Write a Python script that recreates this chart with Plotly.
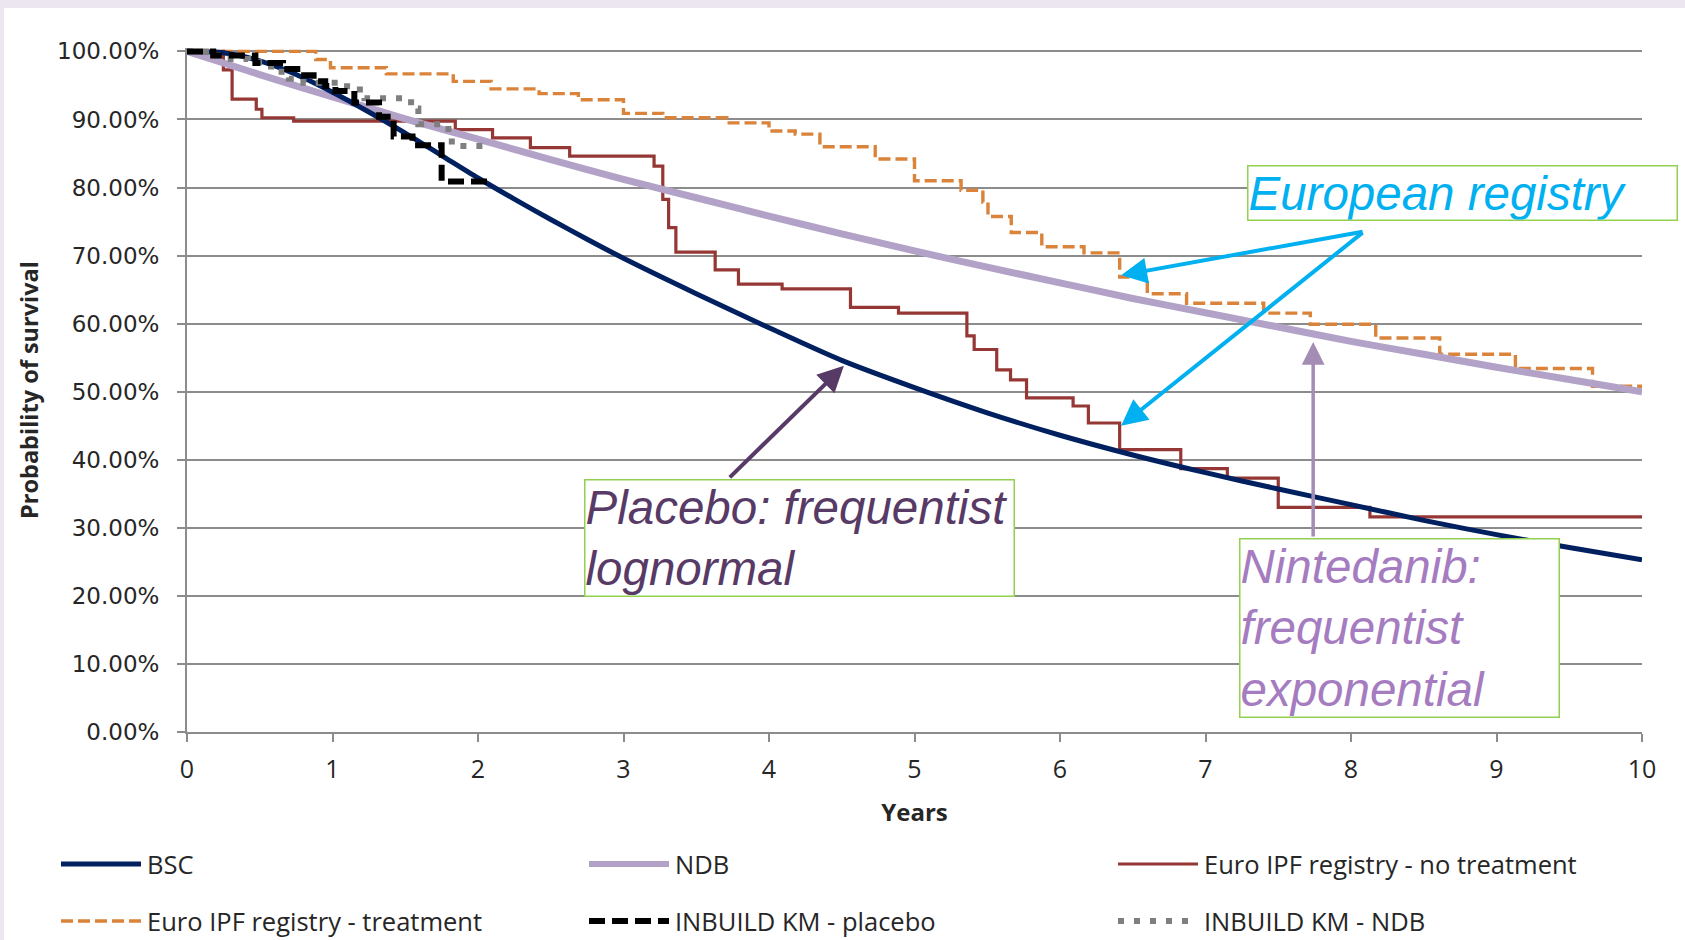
import plotly.graph_objects as go

# ---------------- data (years, survival %) ----------------
x_ticks = list(range(0, 11))
y_ticks = [i / 10 for i in range(11)]

bsc_t = [0, 0.25, 0.5, 0.75, 1, 1.25, 1.5, 1.75, 2, 2.25, 2.5, 2.75, 3, 3.5, 4, 4.5, 5, 5.5, 6, 6.5, 7, 7.5, 8, 8.5, 9, 9.5, 10]
bsc_s = [100, 99.8, 98.6, 96.6, 94.0, 91.1, 88.0, 84.7, 81.4, 78.3, 75.3, 72.4, 69.6, 64.4, 59.4, 54.6, 50.6, 46.9, 43.6, 40.7, 38.1, 35.7, 33.4, 31.1, 29.0, 27.1, 25.3]

ndb_t = [0, 0.5, 1, 1.5, 2, 2.5, 3, 3.5, 4, 4.5, 5, 5.5, 6, 6.5, 7, 7.5, 8, 8.5, 9, 9.5, 10]
ndb_s = [100, 96.6, 93.3, 90.1, 87.1, 84.1, 81.2, 78.5, 75.8, 73.2, 70.7, 68.3, 66.0, 63.7, 61.6, 59.5, 57.4, 55.5, 53.6, 51.8, 50.0]

euro_nt_t = [0, 0.25, 0.31, 0.476, 0.515, 0.733, 1.844, 2.10, 2.36, 2.63, 3.21, 3.27, 3.31, 3.36, 3.63, 3.79,
             4.09, 4.56, 4.89, 5.36, 5.41, 5.565, 5.66, 5.77, 6.09, 6.195, 6.41, 6.83, 7.15, 7.50, 8.13, 10]
euro_nt_s = [100, 97.3, 93.0, 91.5, 90.25, 89.75, 88.5, 87.3, 85.85, 84.6, 83.15, 78.25, 74.1, 70.5, 67.9, 65.8,
             65.1, 62.4, 61.55, 58.2, 56.2, 53.2, 51.75, 49.1, 47.9, 45.4, 41.5, 38.7, 37.3, 33.0, 31.6, 31.6]

euro_tr_t = [0, 0.885, 0.986, 1.37, 1.83, 2.09, 2.42, 2.69, 3.0, 3.27, 3.71, 4.0, 4.18, 4.35, 4.73, 5.0, 5.32,
             5.47, 5.505, 5.665, 5.875, 6.165, 6.41, 6.60, 6.87, 7.40, 7.72, 8.17, 8.61, 9.13, 9.66, 10]
euro_tr_s = [100, 98.8, 97.6, 96.7, 95.6, 94.5, 93.8, 92.9, 90.9, 90.25, 89.5, 88.3, 87.85, 86.0, 84.2, 81.0, 79.6,
             77.85, 75.75, 73.4, 71.3, 70.4, 66.85, 64.4, 63.0, 61.55, 59.9, 57.9, 55.5, 53.4, 50.8, 50.8]

km_pbo_t = [0, 0.18, 0.47, 0.66, 0.78, 0.87, 0.95, 1.02, 1.15, 1.32, 1.42, 1.55, 1.75, 2.08]
km_pbo_s = [100, 99.4, 98.3, 97.4, 96.5, 95.6, 94.9, 94.2, 92.5, 90.4, 87.5, 86.2, 80.9, 80.9]

km_ndb_t = [0, 0.2, 0.3, 0.42, 0.52, 0.6, 0.7, 0.8, 1.1, 1.22, 1.54, 1.59, 1.75, 1.82, 2.04]
km_ndb_s = [100, 99.4, 98.9, 98.4, 97.8, 97.0, 96.0, 95.4, 94.4, 93.1, 91.6, 89.3, 88.6, 86.1, 86.1]

series_names = ["BSC", "NDB", "Euro IPF registry - no treatment",
                "Euro IPF registry - treatment", "INBUILD KM - placebo", "INBUILD KM - NDB"]

# ---------------- styles ----------------
styles = [
    dict(color="#002060", width=5, dash="solid", shape="spline"),
    dict(color="#B3A2C7", width=7, dash="solid", shape="spline"),
    dict(color="#953735", width=3.2, dash="solid", shape="hv"),
    dict(color="#D9843A", width=3.4, dash="12px,5px", shape="hv"),
    dict(color="#000000", width=6, dash="16px,7px", shape="hv"),
    dict(color="#7F7F7F", width=6, dash="6px,10px", shape="hv"),
]
series_data = [(bsc_t, bsc_s), (ndb_t, ndb_s), (euro_nt_t, euro_nt_s),
               (euro_tr_t, euro_tr_s), (km_pbo_t, km_pbo_s), (km_ndb_t, km_ndb_s)]

fig = go.Figure()
order = [3, 2, 1, 0, 5, 4]
for i in order:
    t, s = series_data[i]
    st = styles[i]
    line = dict(color=st["color"], width=st["width"], dash=st["dash"], shape=st["shape"])
    if st["shape"] == "spline":
        line["smoothing"] = 0.8
    fig.add_trace(go.Scatter(x=t, y=[v / 100 for v in s], mode="lines", name=series_names[i],
                             line=line, showlegend=False, hoverinfo="skip"))

# ---------------- layout ----------------
W, H = 1685, 940
ml, mr, mt, mb = 187, 43, 48, 208
pw, ph = W - ml - mr, H - mt - mb

def px_to_paper(px, py):
    return (px - ml) / pw, (H - mb - py) / ph

shapes = []
annotations = []

# page background (lavender strip top/left, white content)
x0p, y1p = px_to_paper(4, 8)
x1p, y0p = px_to_paper(W + 5, H + 5)
shapes.append(dict(type="rect", xref="paper", yref="paper", x0=x0p, x1=x1p, y0=y0p, y1=y1p,
                   fillcolor="white", line=dict(width=0), layer="below"))

# manual legend: 3 columns x 2 rows
col_sym_px = [61, 589, 1118]
row_px = [864, 921]
for k, name in enumerate(series_names):
    r, c = divmod(k, 3)
    st = styles[k]
    sx0, sy = px_to_paper(col_sym_px[c], row_px[r])
    sx1, _ = px_to_paper(col_sym_px[c] + 80, row_px[r])
    tx, _ = px_to_paper(col_sym_px[c] + 84, row_px[r])
    shapes.append(dict(type="line", xref="paper", yref="paper", x0=sx0, x1=sx1, y0=sy, y1=sy,
                       line=dict(color=st["color"], width=min(st["width"], 6), dash=st["dash"])))
    annotations.append(dict(xref="paper", yref="paper", x=tx, y=sy, xanchor="left", yanchor="middle",
                            text=name, showarrow=False,
                            font=dict(family="Open Sans", size=25.5, color="#262626")))

# arrows (tip x,y ; tail ax,ay in data coords)
arrows = [
    (6.42, 0.671, 8.09, 0.7355, "#00B0F0", 4),
    (6.42, 0.450, 8.09, 0.7355, "#00B0F0", 4),
    (4.515, 0.538, 3.72, 0.372, "#583A66", 4),
    (7.74, 0.573, 7.74, 0.285, "#A48DB5", 3.5),
]
for (x, y, ax, ay, col, w) in arrows:
    annotations.append(dict(x=x, y=y, ax=ax, ay=ay, xref="x", yref="y", axref="x", ayref="y",
                            text="", showarrow=True, arrowhead=2, arrowsize=1.3, arrowwidth=w,
                            arrowcolor=col, standoff=0))

# text boxes
boxes = [
    (7.285, 0.8333, "European registry", "#00B0F0", 428),
    (2.727, 0.3722, "Placebo: frequentist<br>lognormal", "#583A66", 428),
    (7.232, 0.2854, "Nintedanib:<br>frequentist<br>exponential", "#A57CBF", 318),
]
for (x, y, txt, col, w) in boxes:
    annotations.append(dict(x=x, y=y, xref="x", yref="y", xanchor="left", yanchor="top",
                            text=txt, showarrow=False, align="left", width=w,
                            font=dict(family="Liberation Sans", size=47.5, color=col, style="italic"),
                            bgcolor="white", bordercolor="#92D050", borderwidth=1.5, borderpad=0))

fig.update_layout(
    width=W, height=H,
    margin=dict(l=ml, r=mr, t=mt, b=mb, pad=0),
    paper_bgcolor="#EBE6EF",
    plot_bgcolor="white",
    shapes=shapes,
    annotations=annotations,
    showlegend=False,
)
fig.update_xaxes(
    range=[0, 10], tickvals=x_ticks, ticktext=[str(v) for v in x_ticks],
    showgrid=False, zeroline=False, showline=True, linecolor="#8C8C8C", linewidth=2,
    ticks="outside", ticklen=8, tickwidth=2, tickcolor="#8C8C8C",
    tickfont=dict(family="Open Sans", size=25, color="#262626"), ticklabelstandoff=6,
    title=dict(text="<b>Years</b>", font=dict(family="Open Sans", size=24, color="#262626"), standoff=20),
)
fig.update_yaxes(
    range=[0, 1.005], tickvals=y_ticks, tickformat=".2%",
    showgrid=True, gridcolor="#8C8C8C", gridwidth=2, zeroline=False,
    showline=True, linecolor="#8C8C8C", linewidth=2,
    ticks="outside", ticklen=8, tickwidth=2, tickcolor="#8C8C8C",
    tickfont=dict(family="DejaVu Sans", size=23, color="#262626"), ticklabelstandoff=13,
    title=dict(text="<b>Probability of survival</b>", font=dict(family="Open Sans", size=23.5, color="#262626"), standoff=12),
)

fig.write_html("out.html", config={"displayModeBar": False},
               post_script="document.body.style.margin='0';document.body.style.overflow='hidden';")
